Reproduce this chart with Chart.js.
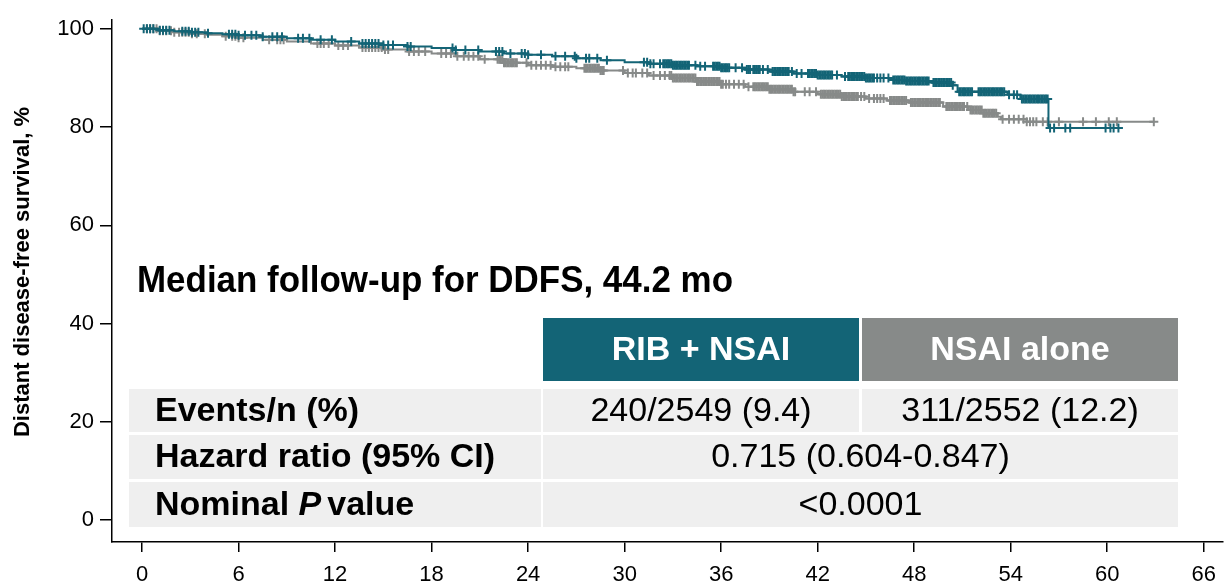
<!DOCTYPE html>
<html>
<head>
<meta charset="utf-8">
<script src="https://cdn.jsdelivr.net/npm/chart.js@4.4.1/dist/chart.umd.min.js"></script>
<style>
  html, body { margin: 0; padding: 0; background: #fff; }
</style>
</head>
<body>
<canvas id="ddfsChart" width="1229" height="585"></canvas>
<script>
// Kaplan-Meier steps: month of event and survival after it, %
const ribMonths = [0, 1, 2, 3, 4, 5, 6, 7.5, 9, 10.5, 12, 13.5, 15, 16.5, 18, 19.5, 21, 22.5, 24, 25.5, 27, 28.5, 30, 31.5, 33, 34.5, 36, 37.5, 39, 40.5, 42, 43.5, 45, 46.5, 47.5, 49.1, 50.4, 50.7, 53.8, 54.6, 56.35, 60.8];
const ribSurvival = [100, 99.7, 99.5, 99.3, 99.1, 98.9, 98.7, 98.4, 98.1, 97.8, 97.4, 97.0, 96.7, 96.4, 96.1, 95.7, 95.4, 95.0, 94.7, 94.4, 94.0, 93.6, 93.2, 92.9, 92.6, 92.4, 92.1, 91.7, 91.3, 90.9, 90.6, 90.3, 90.0, 89.6, 89.4, 89.1, 88.5, 87.2, 86.6, 85.7, 79.8, 79.8];

const nsaiMonths = [0, 1, 2, 3, 4, 5, 6, 7.5, 9, 10.5, 12, 13.5, 15, 16.5, 18, 19.5, 21, 22.5, 24, 25.5, 27, 28.5, 30, 31.5, 33, 34.5, 36, 37.5, 39, 40.5, 42, 43.5, 45, 46.3, 47.7, 49.8, 51.4, 52.3, 53.2, 53.4, 55.0, 62.9];
const nsaiSurvival = [100, 99.6, 99.3, 99.0, 98.8, 98.5, 98.2, 97.8, 97.4, 97.0, 96.6, 96.2, 95.8, 95.4, 95.0, 94.4, 93.8, 93.1, 92.6, 92.3, 92.0, 91.5, 91.0, 90.5, 90.0, 89.3, 88.7, 88.2, 87.7, 87.2, 86.7, 86.2, 85.8, 85.4, 85.0, 84.2, 83.5, 82.8, 82.1, 81.6, 81.1, 81.1];

// censored patients, months
const ribCensored = [
  0.1, 0.3, 0.5, 0.7, 1.1, 1.3, 1.5, 1.7, 2.5, 2.7, 2.9, 3.1, 3.3, 3.5, 4.1,
  5.4, 5.6, 5.8, 6.0, 6.4, 6.8, 7.1, 7.5, 8.1, 8.4, 8.7, 9.7, 10.0, 10.4, 11.1, 11.8,
  13.0, 13.7, 13.9, 14.1, 14.3, 14.5, 14.7, 15.0, 15.3, 15.6, 16.5, 16.7,
  19.3, 19.5, 20.1, 20.9, 22.0, 22.2, 22.4, 22.9, 23.6, 23.8, 24.0, 24.8, 25.7,
  26.3, 26.9, 27.0, 27.6, 27.8, 28.3, 28.9,
  31.2, 31.4, 31.6, 31.8, 32.2, 32.4, 32.6, 32.8, 33.0, 33.2, 33.4, 33.6, 33.8, 34.0,
  34.4, 34.7, 35.0, 35.5, 35.7, 35.9, 36.1, 36.3, 36.5, 36.9, 37.3, 37.7, 38.1,
  38.3, 38.6, 38.9, 39.2, 39.4, 39.6, 39.8, 40.0, 40.2, 40.4, 40.7, 41.0, 41.4,
  41.5, 41.7, 41.9, 42.1, 42.3, 42.5, 42.7, 42.9, 43.2, 43.7, 43.9, 44.1, 44.3,
  44.5, 44.7, 44.9, 45.1, 45.3, 45.5, 45.7, 45.9, 46.1, 46.4, 46.7, 46.9, 47.1,
  47.3, 47.5, 47.7, 47.9, 48.1, 48.3, 48.5, 48.7, 48.9, 49.2, 49.4, 49.6, 49.8,
  50.0, 50.2, 50.4, 50.8, 51.0, 51.2, 51.4, 51.6, 52.0, 52.2, 52.4, 52.6, 52.8,
  53.0, 53.2, 53.4, 53.6, 53.9, 54.2, 54.4, 54.7, 54.9, 55.1, 55.3, 55.5, 55.7,
  55.9, 56.1, 56.3, 56.45, 56.7, 57.4, 57.7, 59.9, 60.2, 60.4, 60.7,
  // thick clusters
  32.5, 32.7, 32.9, 33.1, 33.3, 33.5, 33.7, 33.9, 35.6, 35.8, 36.0, 36.2, 36.4,
  37.6, 37.8, 38.0, 38.2, 38.4, 39.3, 39.5, 39.7, 39.9, 40.1, 41.6, 41.8, 42.0,
  42.2, 42.4, 42.6, 42.8, 44.0, 44.2, 44.4, 44.6, 44.8, 45.0, 45.2, 45.4, 46.8,
  47.0, 47.2, 47.4, 47.6, 47.8, 48.0, 48.2, 48.4, 48.6, 48.8, 49.3, 49.5, 49.7,
  49.9, 50.1, 50.3, 50.9, 51.1, 51.3, 51.5, 52.1, 52.3, 52.5, 52.7, 52.9, 53.1,
  53.3, 53.5, 54.8, 55.0, 55.2, 55.4, 55.6, 55.8, 56.0, 56.2
];
const nsaiCensored = [
  0.3, 0.5, 0.7, 0.9, 1.1, 1.3, 1.5, 1.8, 2.0, 2.3, 2.5, 2.7, 2.9, 3.1, 3.4, 3.9,
  5.2, 5.6, 5.8, 6.0, 6.3, 7.9, 8.4, 8.6, 8.8, 10.9, 11.1, 11.3, 11.6, 12.2, 12.5,
  12.8, 13.7, 13.9, 14.1, 14.3, 14.5, 14.7, 14.9, 15.1, 15.3, 16.6, 16.9, 17.2,
  17.6, 18.6, 18.9, 19.2, 19.6, 20.0, 20.3, 20.6, 20.9, 21.3, 22.1, 22.3, 22.5,
  22.7, 22.9, 23.1, 23.3, 23.9, 24.2, 24.5, 24.8, 25.1, 25.4, 25.7, 26.0, 26.3,
  26.5, 27.5, 27.7, 27.9, 28.1, 28.3, 28.5, 28.7, 29.9, 30.2, 30.5, 30.7, 31.1,
  31.4, 31.8, 32.2, 32.5, 32.8, 33.0, 33.2, 33.4, 33.6, 33.8, 34.0, 34.2, 34.4,
  34.6, 34.8, 35.0, 35.2, 35.4, 35.6, 35.8, 36.0, 36.3, 36.5, 36.8, 37.1, 37.4,
  37.7, 38.0, 38.2, 38.4, 38.6, 38.8, 39.0, 39.2, 39.4, 39.6, 39.8, 40.0, 40.2,
  40.4, 40.6, 41.2, 41.5, 41.9, 42.2, 42.4, 42.6, 42.8, 43.0, 43.2, 43.4, 43.6,
  43.8, 44.0, 44.2, 44.4, 44.7, 44.9, 45.2, 45.5, 45.7, 45.9, 46.1, 46.5, 46.7,
  46.9, 47.1, 47.3, 47.5, 47.8, 48.0, 48.2, 48.4, 48.6, 48.8, 49.0, 49.2, 49.4,
  49.6, 50.0, 50.2, 50.4, 50.6, 50.8, 51.0, 51.3, 51.5, 51.7, 51.9, 52.1, 52.3,
  52.5, 52.7, 52.9, 53.1, 53.5, 53.9, 54.2, 54.5, 54.8, 55.0, 55.2, 55.4, 55.6,
  56.0, 56.3, 57.0, 58.5, 59.3, 60.1, 60.6, 62.9,
  // thick clusters
  22.2, 22.4, 22.6, 22.8, 23.0, 23.2, 27.6, 27.8, 28.0, 28.2, 28.4, 28.6, 32.9,
  33.1, 33.3, 33.5, 33.7, 33.9, 34.1, 34.3, 34.5, 34.7, 34.9, 35.1, 35.3, 35.5,
  35.7, 35.9, 36.1, 38.1, 38.3, 38.5, 38.7, 38.9, 39.1, 39.3, 39.5, 39.7, 39.9,
  40.1, 40.3, 40.5, 42.3, 42.5, 42.7, 42.9, 43.1, 43.3, 43.5, 43.7, 43.9, 44.1,
  44.3, 44.5, 46.6, 46.8, 47.0, 47.2, 47.4, 47.9, 48.1, 48.3, 48.5, 48.7, 48.9,
  49.1, 49.3, 49.5, 50.1, 50.3, 50.5, 50.7, 50.9, 51.1, 51.6, 51.8, 52.0, 52.2,
  52.4, 52.6, 52.8, 53.0
];

const xTicks = [0, 6, 12, 18, 24, 30, 36, 42, 48, 54, 60, 66];
const yTicks = [0, 20, 40, 60, 80, 100];

// summary table
const armNames = ['RIB + NSAI', 'NSAI alone'];
const rowLabels = ['Events/n (%)', 'Hazard ratio (95% CI)', 'Nominal P value'];
const eventsText = ['240/2549 (9.4)', '311/2552 (12.2)'];
const hazardText = '0.715 (0.604-0.847)';
const pValueText = '<0.0001';
const followUpText = 'Median follow-up for DDFS, 44.2 mo';
const yTitle = 'Distant disease-free survival, %';

const TEAL = '#136476';
const GREY = '#878a89';
const CELL = '#efefef';
const FONT = '"Liberation Sans", Arial, sans-serif';

// survival level of a step curve at month t
function survAt(months, surv, t) {
  let s = surv[0];
  for (let i = 0; i < months.length; i++) {
    if (months[i] <= t) s = surv[i];
  }
  return s;
}

function toPoints(months, surv) {
  return months.map((m, i) => ({ x: m, y: surv[i] }));
}

function censorPoints(times, months, surv) {
  return times.map(t => ({ x: t, y: survAt(months, surv, t) }));
}

// draws text squeezed/stretched to a given width
function fitText(ctx, text, x, y, width) {
  const w = ctx.measureText(text).width;
  ctx.save();
  ctx.translate(x, y);
  ctx.scale(width / w, 1);
  ctx.fillText(text, 0, 0);
  ctx.restore();
}

// table, follow-up note and y title drawn over the plot
const overlayPlugin = {
  id: 'overlay',
  afterDraw(chart) {
    const ctx = chart.ctx;
    ctx.save();

    // y axis title
    ctx.save();
    ctx.translate(23, 272);
    ctx.rotate(-Math.PI / 2);
    ctx.fillStyle = '#000';
    ctx.font = 'bold 22px ' + FONT;
    ctx.textAlign = 'center';
    ctx.textBaseline = 'middle';
    ctx.fillText(yTitle, 0, 0);
    ctx.restore();

    // follow-up note
    ctx.fillStyle = '#000';
    ctx.font = 'bold 37px ' + FONT;
    ctx.textAlign = 'left';
    ctx.textBaseline = 'alphabetic';
    fitText(ctx, followUpText, 137, 292, 596);

    // header cells
    const cols = [[543, 859], [862, 1178]];
    const headColors = [TEAL, GREY];
    ctx.textAlign = 'center';
    ctx.textBaseline = 'middle';
    ctx.font = 'bold 34px ' + FONT;
    cols.forEach((c, i) => {
      ctx.fillStyle = headColors[i];
      ctx.fillRect(c[0], 318, c[1] - c[0], 63);
      ctx.fillStyle = '#fff';
      ctx.fillText(armNames[i], (c[0] + c[1]) / 2, 351);
    });

    // body rows
    const rows = [[389, 432], [435, 479], [482, 527]];
    const labelCol = [129, 541];
    rows.forEach((r, i) => {
      const h = r[1] - r[0];
      const mid = (r[0] + r[1]) / 2 + 1;
      ctx.fillStyle = CELL;
      ctx.fillRect(labelCol[0], r[0], labelCol[1] - labelCol[0], h);
      if (i === 0) {
        cols.forEach(c => ctx.fillRect(c[0], r[0], c[1] - c[0], h));
      } else {
        ctx.fillRect(cols[0][0], r[0], cols[1][1] - cols[0][0], h);
      }

      ctx.fillStyle = '#000';
      ctx.textAlign = 'left';
      if (i === 2) {
        // italic P inside the label
        const parts = rowLabels[i].split(' P ');
        let x = 155;
        ctx.font = 'bold 34px ' + FONT;
        ctx.fillText(parts[0] + ' ', x, mid);
        x += ctx.measureText(parts[0] + ' ').width;
        ctx.font = 'italic bold 34px ' + FONT;
        ctx.fillText('P', x, mid);
        x += ctx.measureText('P').width + 6;
        ctx.font = 'bold 34px ' + FONT;
        ctx.fillText(parts[1], x, mid);
      } else {
        ctx.font = 'bold 34px ' + FONT;
        ctx.fillText(rowLabels[i], 155, mid);
      }

      ctx.font = '34px ' + FONT;
      ctx.textAlign = 'center';
      if (i === 0) {
        cols.forEach((c, k) => ctx.fillText(eventsText[k], (c[0] + c[1]) / 2, mid));
      } else {
        const cx = (cols[0][0] + cols[1][1]) / 2;
        ctx.fillText(i === 1 ? hazardText : pValueText, cx, mid);
      }
    });

    ctx.restore();
  }
};

const ctx = document.getElementById('ddfsChart').getContext('2d');

const censorStyle = {
  showLine: false,
  pointStyle: 'cross',
  pointRadius: 4.5,
  pointBorderWidth: 2,
  pointHoverRadius: 4.5
};

new Chart(ctx, {
  type: 'line',
  data: {
    datasets: [
      Object.assign({
        label: 'RIB + NSAI censored',
        data: censorPoints(ribCensored, ribMonths, ribSurvival),
        borderColor: TEAL,
        backgroundColor: TEAL
      }, censorStyle),
      {
        label: 'RIB + NSAI',
        data: toPoints(ribMonths, ribSurvival),
        stepped: true,
        borderColor: TEAL,
        borderWidth: 2,
        pointRadius: 0,
        fill: false
      },
      Object.assign({
        label: 'NSAI alone censored',
        data: censorPoints(nsaiCensored, nsaiMonths, nsaiSurvival),
        borderColor: GREY,
        backgroundColor: GREY
      }, censorStyle),
      {
        label: 'NSAI alone',
        data: toPoints(nsaiMonths, nsaiSurvival),
        stepped: true,
        borderColor: GREY,
        borderWidth: 2,
        pointRadius: 0,
        fill: false
      }
    ]
  },
  options: {
    responsive: false,
    animation: false,
    devicePixelRatio: 1,
    layout: { padding: { top: 20, right: 0, left: 0, bottom: 0 } },
    plugins: {
      legend: { display: false },
      tooltip: { enabled: false }
    },
    scales: {
      x: {
        type: 'linear',
        min: -1.87,
        max: 67.17,
        afterBuildTicks: (scale) => { scale.ticks = xTicks.map(v => ({ value: v })); },
        afterFit: (scale) => { scale.height = 43; },
        ticks: {
          color: '#000',
          font: { family: FONT, size: 22 },
          padding: 10,
          maxRotation: 0,
          autoSkip: false
        },
        grid: { drawOnChartArea: false, tickLength: 10, color: '#000', lineWidth: 1.5 },
        border: { color: '#000', width: 1.5 }
      },
      y: {
        min: -4.48,
        max: 101.8,
        afterBuildTicks: (scale) => { scale.ticks = yTicks.map(v => ({ value: v })); },
        afterFit: (scale) => { scale.width = 112; },
        ticks: {
          color: '#000',
          font: { family: FONT, size: 22 },
          padding: 6,
          autoSkip: false
        },
        grid: { drawOnChartArea: false, tickLength: 12, color: '#000', lineWidth: 1.5 },
        border: { color: '#000', width: 1.5 }
      }
    }
  },
  plugins: [overlayPlugin]
});
</script>
</body>
</html>
